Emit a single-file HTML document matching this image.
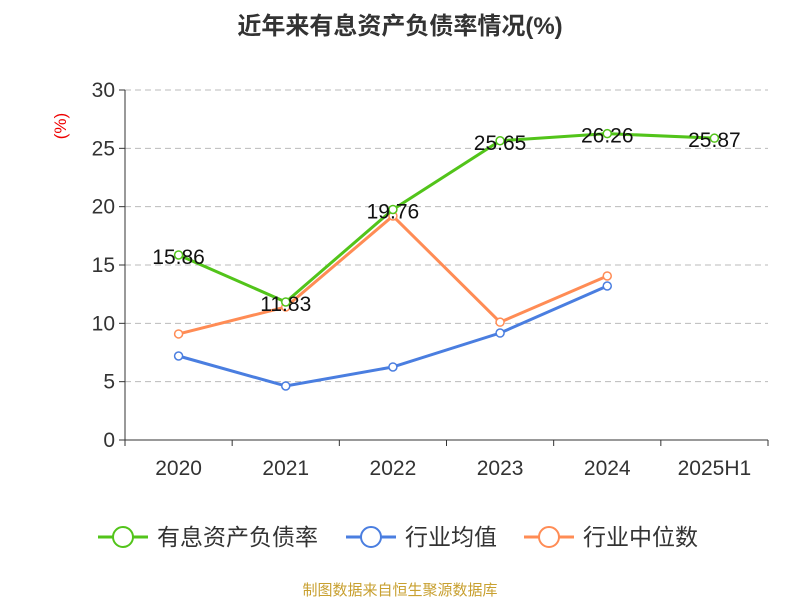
<!DOCTYPE html>
<html><head><meta charset="utf-8"><style>
body{margin:0;background:#fff;font-family:"Liberation Sans","Noto Sans CJK SC",sans-serif;}
</style></head><body>
<svg id="chart" width="800" height="600" xmlns="http://www.w3.org/2000/svg" font-family="Liberation Sans, Noto Sans CJK SC, sans-serif">
<text x="400" y="34" text-anchor="middle" font-size="24" font-weight="bold" fill="#333">近年来有息资产负债率情况(%)</text>
<text x="66" y="126" font-size="17" fill="#e00" transform="rotate(-90 66 126)" text-anchor="middle">(%)</text>
<g id="grid"></g><g id="axes"></g><g id="series"></g>
<g>
 <g><line x1="98" y1="537" x2="148" y2="537" stroke="#52c41a" stroke-width="3"/><circle cx="123" cy="537" r="10" fill="#fff" stroke="#52c41a" stroke-width="2"/><text x="157" y="545" font-size="23" fill="#333">有息资产负债率</text></g>
 <g><line x1="346" y1="537" x2="396" y2="537" stroke="#4a7ee0" stroke-width="3"/><circle cx="371" cy="537" r="10" fill="#fff" stroke="#4a7ee0" stroke-width="2"/><text x="405" y="545" font-size="23" fill="#333">行业均值</text></g>
 <g><line x1="524" y1="537" x2="574" y2="537" stroke="#ff8c55" stroke-width="3"/><circle cx="549" cy="537" r="10" fill="#fff" stroke="#ff8c55" stroke-width="2"/><text x="583" y="545" font-size="23" fill="#333">行业中位数</text></g>
</g>
<text x="400" y="595" text-anchor="middle" font-size="15" fill="#c8a030">制图数据来自恒生聚源数据库</text>
</svg>
<script>
const categories=["2020","2021","2022","2023","2024","2025H1"];
const debtRatio=[15.86,11.83,19.76,25.65,26.26,25.87];
const industryMean=[7.2,4.63,6.26,9.17,13.2,null];
const industryMedian=[9.09,11.4,19.2,10.1,14.06,null];
const yTicks=[0,5,10,15,20,25,30];
const NS="http://www.w3.org/2000/svg";
const x0=125,x1=768,y0=440,y1=90,yMax=30;
const bw=(x1-x0)/categories.length;
const X=i=>x0+bw*(i+0.5);
const Y=v=>y0-(v/yMax)*(y0-y1);
function mk(tag,attrs,parent){const e=document.createElementNS(NS,tag);for(const k in attrs)e.setAttribute(k,attrs[k]);parent.appendChild(e);return e;}
const grid=document.getElementById('grid'),axes=document.getElementById('axes'),ser=document.getElementById('series');
yTicks.forEach(t=>{
 const y=Y(t);
 if(t>0){const g=mk('line',{x1:x0,x2:x1,y1:y,y2:y,stroke:'#bbb','stroke-dasharray':'6,4'},grid);
 
 }
 mk('line',{x1:x0-6,x2:x0,y1:y,y2:y,stroke:'#333'},axes);
 const tx=mk('text',{x:x0-10,y:y+7,'text-anchor':'end','font-size':21,fill:'#333'},axes);tx.textContent=t;
 
 
});
mk('line',{x1:x0,x2:x0,y1:y1,y2:y0,stroke:'#333'},axes);
mk('line',{x1:x0,x2:x1,y1:y0,y2:y0,stroke:'#333'},axes);
for(let i=0;i<=categories.length;i++)mk('line',{x1:x0+bw*i,x2:x0+bw*i,y1:y0,y2:y0+6,stroke:'#333'},axes);
categories.forEach((c,i)=>{const t=mk('text',{x:X(i),y:y0+35,'text-anchor':'middle','font-size':21,fill:'#333'},axes);t.textContent=c;
 
 });
function series(vals,color,name,labels){
 const g=mk('g',{},ser);
 
 
 const pts=vals.map((v,i)=>v==null?null:[X(i),Y(v)]).filter(p=>p);
 mk('polyline',{points:pts.map(p=>p.join(',')).join(' '),fill:'none',stroke:color,'stroke-width':3},g);
 vals.forEach((v,i)=>{if(v==null)return;
  const c=mk('circle',{cx:X(i),cy:Y(v),r:4,fill:'#fff',stroke:color,'stroke-width':1.5},g);
  
  
  if(labels){const t=mk('text',{x:X(i),y:Y(v)+9,'text-anchor':'middle','font-size':21,fill:'#111'},g);t.textContent=v.toFixed(2);
   
   }
 });
}
series(industryMean,'#4a7ee0','industry-mean-line',false);
series(industryMedian,'#ff8c55','industry-median-line',false);
series(debtRatio,'#52c41a','debt-ratio-line',true);
</script>
</body></html>
